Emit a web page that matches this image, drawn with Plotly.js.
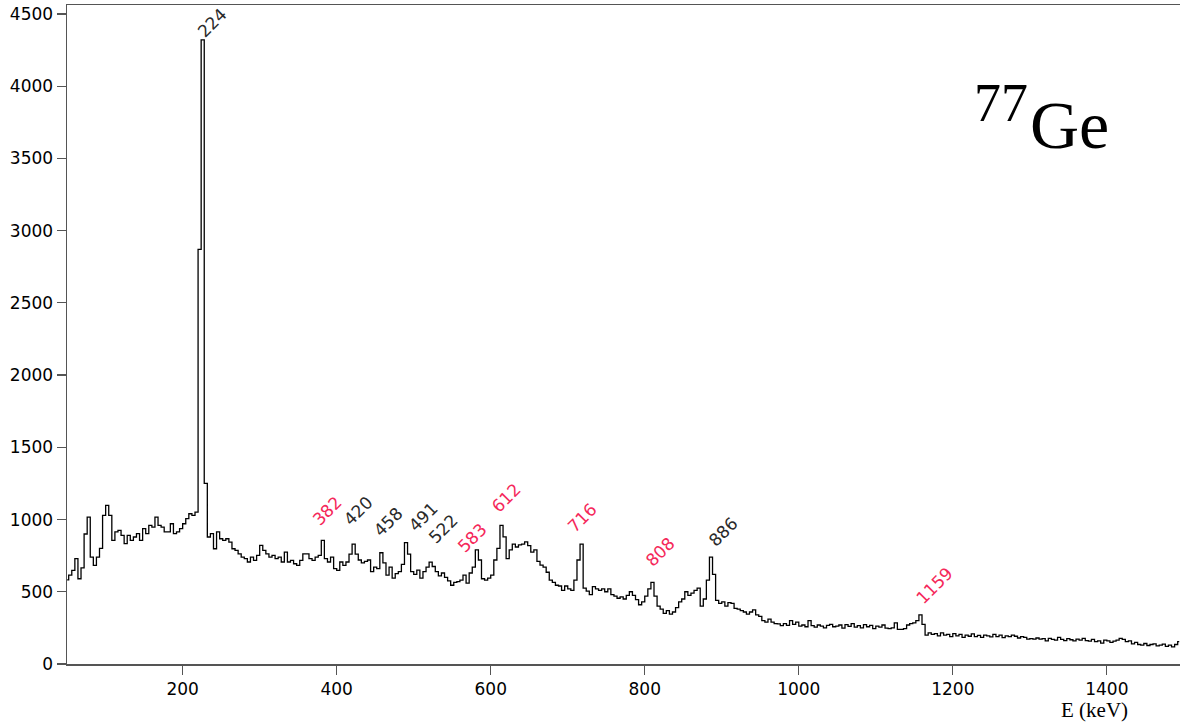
<!DOCTYPE html>
<html>
<head>
<meta charset="utf-8">
<script src="https://cdn.plot.ly/plotly-3.0.1.min.js"></script>
<style>html,body{margin:0;padding:0;background:#fff;}#chart{width:1180px;height:722px;}</style>
</head>
<body>
<div id="chart"></div>
<script>
// Histogram: 4 keV bins, first bin starts at 48 keV
const binStart = 48;
const binWidth = 4;
const counts = [
  583,615,648,729,590,666,900,1017,740,683,      // 48-84
  740,800,1029,1098,1029,856,914,925,890,833,    // 88-124
  890,856,879,902,856,937,902,960,948,1017,      // 128-164
  960,948,914,914,971,902,914,937,971,1006,      // 168-204
  1040,1029,1052,2870,4320,1250,879,902,798,914, // 208-244
  867,856,867,844,798,786,763,740,729,706,       // 248-284
  740,717,752,821,786,763,740,752,729,740,       // 288-324
  706,775,706,717,694,683,717,763,763,729,       // 328-364
  717,740,752,856,729,706,740,660,648,706,       // 368-404
  683,706,760,830,760,720,700,710,720,640,       // 408-444
  670,660,770,700,615,670,595,625,640,690,       // 448-484
  840,760,640,620,650,595,640,670,705,675,       // 488-524
  640,610,630,600,575,545,565,570,580,615,       // 528-564
  560,630,670,790,720,590,580,595,615,720,       // 568-604
  800,960,880,730,790,830,810,825,830,845,       // 608-644
  820,775,790,710,685,670,635,580,565,545,       // 648-684
  540,510,540,520,510,580,720,830,525,505,       // 688-724
  480,535,520,510,520,500,520,480,470,455,       // 728-764
  465,450,475,500,475,445,410,430,470,520,       // 768-804
  565,470,400,380,350,370,345,360,390,430,       // 808-844
  450,500,475,490,510,525,400,450,580,740,       // 848-884
  620,440,420,430,400,425,420,385,380,370,       // 888-924
  360,345,360,375,340,330,300,290,310,290,       // 928-964
  280,278,265,280,268,300,275,290,262,270,       // 968-1004
  258,300,265,255,270,262,250,268,275,258,       // 1008-1044
  262,270,248,272,260,280,255,265,250,272,       // 1048-1084
  258,268,245,262,255,270,248,245,250,285,       // 1088-1124
  240,240,245,270,280,285,300,340,275,200,       // 1128-1164
  215,205,210,195,215,200,205,190,210,195,       // 1168-1204
  205,185,200,192,208,190,198,185,200,195,       // 1208-1244
  188,205,190,200,182,195,190,200,192,180,       // 1248-1284
  190,185,172,175,172,180,172,175,160,178,       // 1288-1324
  170,165,185,170,162,175,168,160,172,165,       // 1328-1364
  178,162,158,170,155,160,145,165,160,150,       // 1368-1404
  158,165,178,170,155,160,140,150,135,130,       // 1408-1444
  142,128,135,140,125,130,138,122,130,118,       // 1448-1484
  135,155                                        // 1488-1492
];
const energies = counts.map((_, i) => binStart + binWidth / 2 + i * binWidth);

const peakLabels = ["224","382","420","458","491","522","583","612","716","808","886","1159"];
const peakKind   = ["k","r","k","k","k","k","r","r","r","r","k","r"]; // r = red, k = dark
// label centres in pixels of the 1180x722 picture
const peakLabelPx = [[212,23],[327,511],[358,511],[388,522],[423,517],[443,529],[472,538],[506,498],[582,518],[660,552],[723,532],[934,586]];

const L = 67, R = 0, T = 5, B = 58, W = 1180, H = 722;
const pw = W - L - R, ph = H - T - B;
const px2x = p => (p - L) / pw;
const px2y = p => (H - B - p) / ph;

const annotations = peakLabels.map((t, i) => ({
  text: t, xref: 'paper', yref: 'paper',
  x: px2x(peakLabelPx[i][0]), y: px2y(peakLabelPx[i][1]),
  xanchor: 'center', yanchor: 'middle', showarrow: false, textangle: -45,
  font: {family: 'DejaVu Sans', size: 17, color: peakKind[i] === 'r' ? '#f5285a' : '#2a2a2a'}
}));
annotations.push({
  text: '77', xref: 'paper', yref: 'paper', x: px2x(1001), y: px2y(103),
  xanchor: 'center', yanchor: 'middle', showarrow: false,
  font: {family: 'Liberation Serif', size: 54, color: '#000'}
});
annotations.push({
  text: 'Ge', xref: 'paper', yref: 'paper', x: px2x(1069), y: px2y(125),
  xanchor: 'center', yanchor: 'middle', showarrow: false,
  font: {family: 'Liberation Serif', size: 68, color: '#000'}
});
annotations.push({
  text: 'E (keV)', xref: 'paper', yref: 'paper', x: px2x(1094), y: px2y(710),
  xanchor: 'center', yanchor: 'middle', showarrow: false,
  font: {family: 'Liberation Serif', size: 21, color: '#000'}
});

const trace = {
  x: energies, y: counts, type: 'scatter', mode: 'lines',
  line: {shape: 'hvh', color: '#000', width: 1.3},
  hoverinfo: 'x+y'
};

const layout = {
  width: W, height: H,
  margin: {l: L, r: R, t: T, b: B, pad: 0},
  paper_bgcolor: '#fff', plot_bgcolor: '#fff',
  showlegend: false,
  font: {family: 'DejaVu Sans', size: 17, color: '#000'},
  xaxis: {
    range: [49.8, 1495], tick0: 0, dtick: 200,
    showgrid: false, zeroline: false,
    showline: true, linecolor: '#555', linewidth: 1.5, mirror: true,
    ticks: 'outside', ticklen: 9, tickcolor: '#555', tickwidth: 1.2,
    tickfont: {family: 'DejaVu Sans', size: 17, color: '#000'}
  },
  yaxis: {
    range: [0, 4562], tick0: 0, dtick: 500,
    showgrid: false, zeroline: false,
    showline: true, linecolor: '#555', linewidth: 1.5,
    ticks: 'outside', ticklen: 9, tickcolor: '#555', tickwidth: 1.2,
    tickfont: {family: 'DejaVu Sans', size: 17, color: '#000'}
  },
  annotations: annotations
};

Plotly.newPlot('chart', [trace], layout, {displayModeBar: false, staticPlot: true});
</script>
</body>
</html>
